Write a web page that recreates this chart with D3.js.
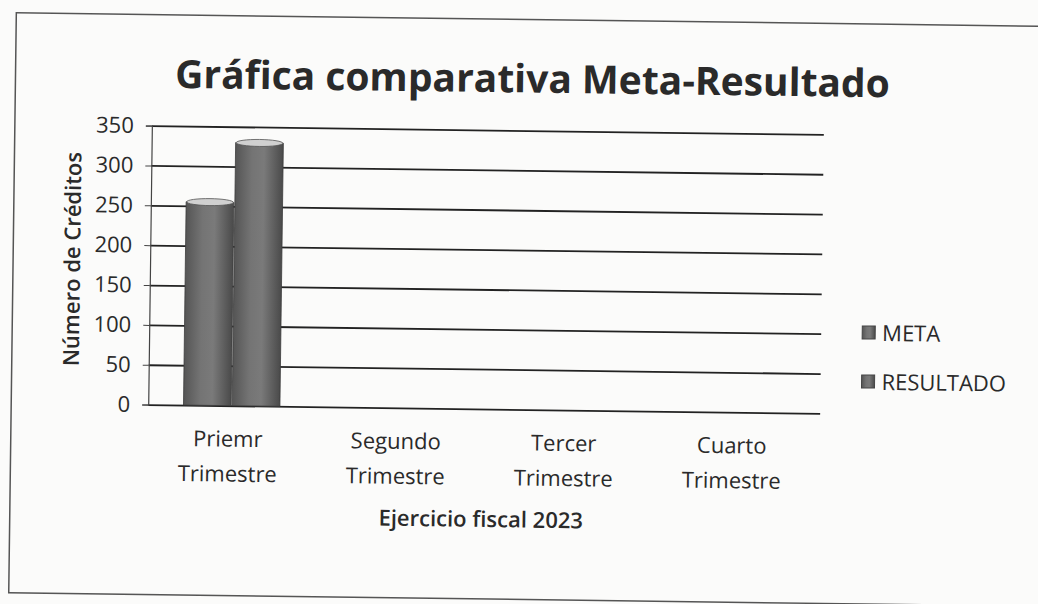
<!DOCTYPE html>
<html>
<head>
<meta charset="utf-8">
<script src="https://cdn.jsdelivr.net/npm/d3@7"></script>
<style>
  body { margin: 0; background: #fbfbfa; }
  svg { display: block; }
  text { font-family: "Open Sans", "Noto Sans", sans-serif; fill: #2a2a2a; }
</style>
</head>
<body>
<svg id="chart" width="1038" height="604"></svg>
<script>
const categories = [["Priemr", "Trimestre"], ["Segundo", "Trimestre"], ["Tercer", "Trimestre"], ["Cuarto", "Trimestre"]];
const seriesNames = ["META", "RESULTADO"];
const metaValues = [255, null, null, null];
const resultadoValues = [330, null, null, null];
const yTicks = [0, 50, 100, 150, 200, 250, 300, 350];

const margin = {top: 130, right: 216, bottom: 195, left: 150};
const W = 1038, H = 604;
const width = W - margin.left - margin.right;
const height = H - margin.top - margin.bottom;

const svg = d3.select("#chart");

const defs = svg.append("defs");
const grad = defs.append("linearGradient").attr("id", "barGrad")
  .attr("x1", "0%").attr("x2", "100%").attr("y1", "0%").attr("y2", "0%");
grad.append("stop").attr("offset", "0%").attr("stop-color", "#555");
grad.append("stop").attr("offset", "35%").attr("stop-color", "#747474");
grad.append("stop").attr("offset", "60%").attr("stop-color", "#7a7a7a");
grad.append("stop").attr("offset", "100%").attr("stop-color", "#4a4a4a");

// whole sheet is scanned slightly tilted
const page = svg.append("g").attr("transform", "rotate(0.75, 486, 270)");

page.append("rect")
  .attr("x", 13).attr("y", 19).attr("width", 1060).attr("height", 580)
  .attr("fill", "none").attr("stroke", "#555").attr("stroke-width", 1.5);

page.append("text")
  .attr("x", 530).attr("y", 92)
  .attr("text-anchor", "middle")
  .attr("font-size", 39).attr("font-weight", "bold")
  .text("Gráfica comparativa Meta-Resultado");

const g = page.append("g").attr("transform", `translate(${margin.left},${margin.top})`);

const y = d3.scaleLinear().domain([0, 350]).range([height, 0]);
const x0 = d3.scaleBand().domain(d3.range(categories.length)).range([0, width])
  .paddingInner(0.42).paddingOuter(0.21);
const x1 = d3.scaleBand().domain(seriesNames).range([0, x0.bandwidth()]);

// gridlines
g.append("g")
  .call(d3.axisLeft(y).tickValues(yTicks).tickSize(-width).tickFormat(""))
  .call(a => a.select(".domain").remove())
  .call(a => a.selectAll("line").attr("stroke", "#222").attr("stroke-width", 1.8));

// y axis
g.append("g")
  .call(d3.axisLeft(y).tickValues(yTicks).tickSize(6).tickPadding(12))
  .call(a => a.select(".domain").attr("stroke", "#444").attr("stroke-width", 1.2))
  .call(a => a.selectAll("line").attr("stroke", "#444"))
  .call(a => a.selectAll("text").attr("font-size", 22).attr("fill", "#2a2a2a")
    .style("font-family", '"Open Sans", sans-serif'));

// bars
const rows = categories.map((c, i) => ({i, vals: [metaValues[i], resultadoValues[i]]}));
const groups = g.selectAll(".cat").data(rows).join("g")
  .attr("transform", d => `translate(${x0(d.i)},0)`);

groups.selectAll("rect.bar")
  .data(d => d.vals.map((v, k) => ({name: seriesNames[k], v})).filter(e => e.v != null))
  .join("rect").attr("class", "bar")
  .attr("x", e => x1(e.name)).attr("width", x1.bandwidth() - 1)
  .attr("y", e => y(e.v)).attr("height", e => height - y(e.v))
  .attr("fill", "url(#barGrad)").attr("stroke", "#3c3c3c").attr("stroke-width", 0.8);

groups.selectAll("ellipse.cap")
  .data(d => d.vals.map((v, k) => ({name: seriesNames[k], v})).filter(e => e.v != null))
  .join("ellipse").attr("class", "cap")
  .attr("cx", e => x1(e.name) + x1.bandwidth() / 2 - 0.5)
  .attr("cy", e => y(e.v))
  .attr("rx", x1.bandwidth() / 2 - 1).attr("ry", 3.5)
  .attr("fill", "#d0d0d0").attr("stroke", "#555").attr("stroke-width", 0.8);

// category labels
const labels = g.append("g").attr("transform", `translate(0,${height})`)
  .selectAll("text").data(categories).join("text")
  .attr("x", (d, i) => x0(i) + x0.bandwidth() / 2 - 4)
  .attr("text-anchor", "middle").attr("font-size", 22);
labels.append("tspan").attr("x", (d, i) => x0(i) + x0.bandwidth() / 2 - 4).attr("y", 41).text(d => d[0]);
labels.append("tspan").attr("x", (d, i) => x0(i) + x0.bandwidth() / 2 - 4).attr("y", 76).text(d => d[1]);

// axis titles
g.append("text")
  .attr("x", width / 2 - 2).attr("y", height + 118)
  .attr("text-anchor", "middle").attr("font-size", 22).attr("font-weight", 600)
  .text("Ejercicio fiscal 2023");

g.append("text")
  .attr("transform", `translate(${-70},${height / 2 - 5}) rotate(-90)`)
  .attr("text-anchor", "middle").attr("font-size", 22).attr("font-weight", 600)
  .text("Número de Créditos");

// legend
const legend = page.append("g").attr("transform", "translate(863,328)");
const li = legend.selectAll("g").data(seriesNames).join("g")
  .attr("transform", (d, i) => `translate(0,${i * 49})`);
li.append("rect").attr("x", 0).attr("y", -7).attr("width", 13).attr("height", 13)
  .attr("fill", "url(#barGrad)").attr("stroke", "#444");
li.append("text").attr("x", 20).attr("y", 0).attr("dy", "0.35em")
  .attr("font-size", 22).text(d => d);
</script>
</body>
</html>
